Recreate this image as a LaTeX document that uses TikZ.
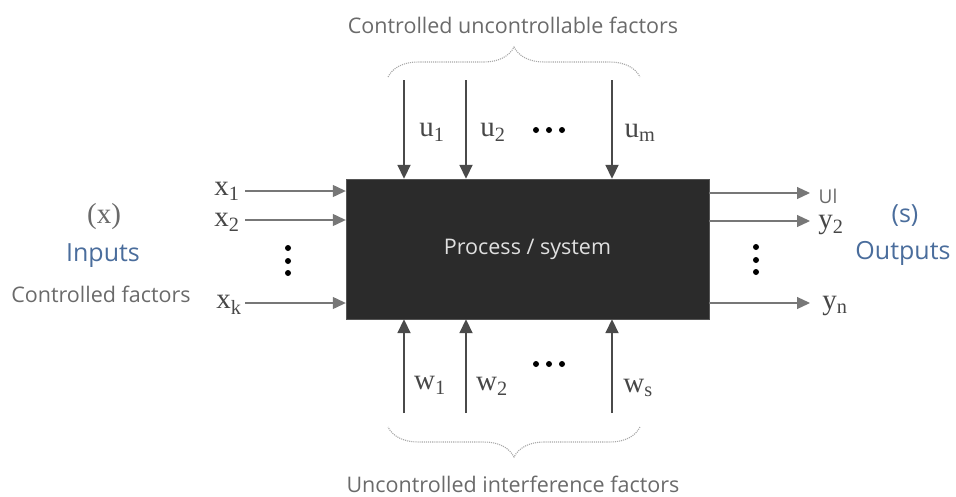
\documentclass[tikz,border=0pt]{standalone}
\usepackage{fontspec}
\setmainfont{Liberation Serif}
\setsansfont{Open Sans}
\usetikzlibrary{arrows.meta,decorations.pathreplacing}
\definecolor{boxfill}{HTML}{2B2B2B}
\definecolor{txtgray}{HTML}{6A6A6A}
\definecolor{txtblue}{HTML}{4A6D9C}
\definecolor{linegray}{HTML}{4A4A4A}
\definecolor{bracegray}{HTML}{A8A8A8}
\tikzset{
  arr/.style={draw=linegray, line width=1.8pt, -{Triangle[length=14pt,width=13pt]}},
  harr/.style={draw=linegray!75, line width=1.2pt, -{Triangle[length=13pt,width=12pt]}},
  var/.style={font=\fontsize{29}{29}\selectfont, text=black!72, inner sep=0pt},
  lab/.style={font=\sffamily\fontsize{21.5}{21.5}\selectfont, text=txtgray, inner sep=0pt},
  bluelab/.style={font=\sffamily\fontsize{25}{25}\selectfont, text=txtblue, inner sep=0pt},
  brc/.style={draw=bracegray, densely dotted, line width=1.1pt, decorate, decoration={brace, amplitude=30pt}},
  dot/.style={circle, fill=black, inner sep=0pt, minimum size=6pt}
}
\begin{document}
\begin{tikzpicture}[x=1pt,y=-1pt]
\useasboundingbox (0,0) rectangle (956,496);
% process box
\node[fill=boxfill, draw=boxfill!80, minimum width=363pt, minimum height=140pt, inner sep=0pt,
      font=\sffamily\fontsize{21.5}{21.5}\selectfont, text=white!88!black] (box) at (527.5,249) {Process / system};
% top
\node[lab] (toplab) at (513,25) {Controlled uncontrollable factors};
\coordinate (tl) at (388,77); \coordinate (tr) at (640,77);
\draw[brc] (tl) -- (tr);
\coordinate (u1) at (404,80); \coordinate (u2) at (466,80); \coordinate (um) at (612,80);
\draw[arr] (u1) -- (u1 |- box.north);
\draw[arr] (u2) -- (u2 |- box.north);
\draw[arr] (um) -- (um |- box.north);
\node[var] (lu1) at (432,132) {u\textsubscript{1}};
\node[var] (lu2) at (493,132) {u\textsubscript{2}};
\node[var] (lum) at (640,133) {u\textsubscript{m}};
\node[dot] (ud1) at (536,130) {}; \node[dot] (ud2) at (549,130) {}; \node[dot] (ud3) at (562,130) {};
% bottom
\coordinate (w1) at (404,413); \coordinate (w2) at (466,413); \coordinate (ws) at (612,413);
\draw[arr] (w1) -- (w1 |- box.south);
\draw[arr] (w2) -- (w2 |- box.south);
\draw[arr] (ws) -- (ws |- box.south);
\node[var] (lw1) at (430,385) {w\textsubscript{1}};
\node[var] (lw2) at (492,386) {w\textsubscript{2}};
\node[var] (lws) at (638,388) {w\textsubscript{s}};
\node[dot] (wd1) at (536,364) {}; \node[dot] (wd2) at (549,364) {}; \node[dot] (wd3) at (562,364) {};
\coordinate (bl) at (388,427); \coordinate (br) at (640,427);
\draw[brc] (br) -- (bl);
\node[lab] (botlab) at (513,484) {Uncontrolled interference factors};
% left
\coordinate (x1) at (245,191); \coordinate (x2) at (245,220); \coordinate (xk) at (245,303);
\draw[harr] (x1) -- (x1 -| box.west);
\draw[harr] (x2) -- (x2 -| box.west);
\draw[harr] (xk) -- (xk -| box.west);
\node[var] (lx1) at (227,191) {x\textsubscript{1}};
\node[var] (lx2) at (227,222) {x\textsubscript{2}};
\node[var] (lxk) at (229,305) {x\textsubscript{k}};
\node[dot] (xd1) at (288,248) {}; \node[dot] (xd2) at (288,261) {}; \node[dot] (xd3) at (288,273) {};
\node[var, text=txtgray] (xlab) at (104,217) {(x)};
\node[bluelab] (inlab) at (103,256) {Inputs};
\node[lab] (cflab) at (101,294) {Controlled factors};
% right
\coordinate (y1) at (810,193); \coordinate (y2) at (810,221); \coordinate (yn) at (810,303);
\draw[harr] (y1 -| box.east) -- (y1);
\draw[harr] (y2 -| box.east) -- (y2);
\draw[harr] (yn -| box.east) -- (yn);
\node[font=\sffamily\fontsize{19}{19}\selectfont, text=txtgray, inner sep=0pt] (ly1) at (828,196) {Ul};
\node[var] (ly2) at (831,225) {y\textsubscript{2}};
\node[var] (lyn) at (835,306) {y\textsubscript{n}};
\node[dot] (yd1) at (756,247) {}; \node[dot] (yd2) at (756,260) {}; \node[dot] (yd3) at (756,272) {};
\node[bluelab] (slab) at (905,216) {(s)};
\node[bluelab] (outlab) at (903,253) {Outputs};
\end{tikzpicture}
\end{document}
